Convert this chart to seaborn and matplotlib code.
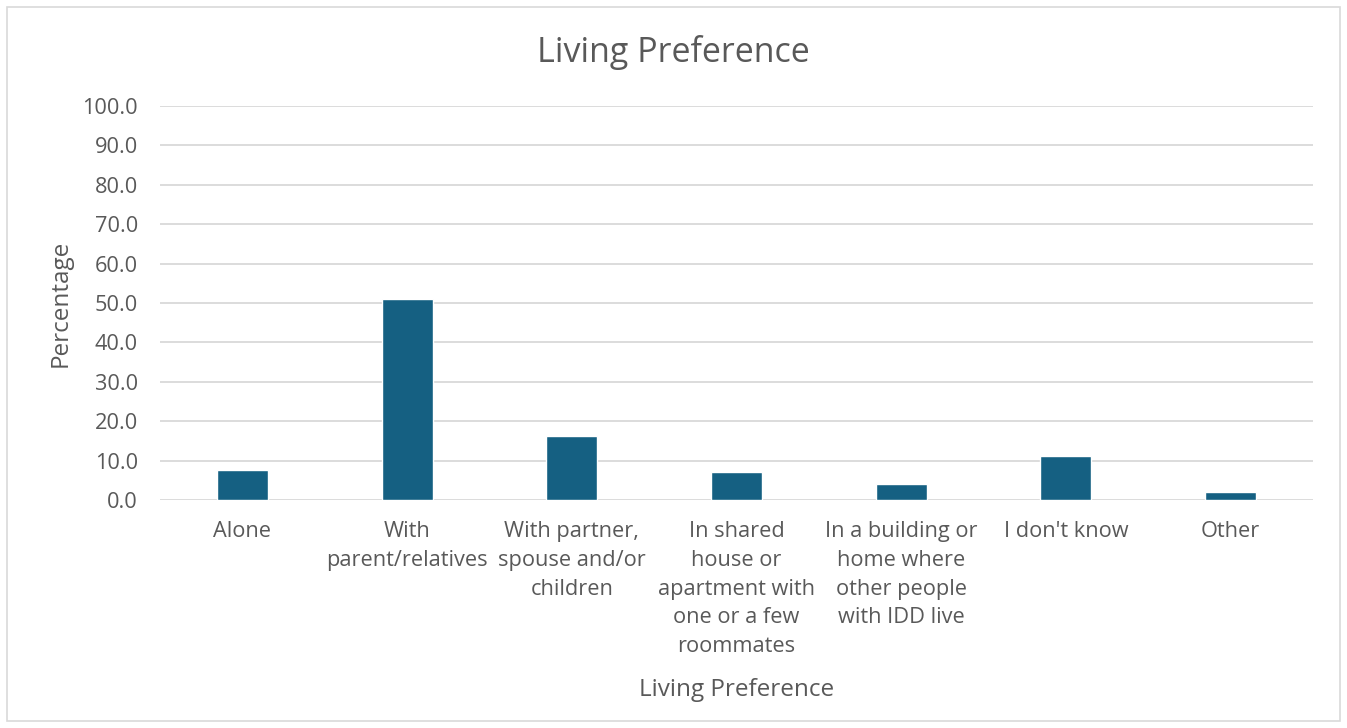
import matplotlib
matplotlib.use("Agg")
import matplotlib.pyplot as plt
import seaborn as sns
import pandas as pd
from matplotlib.patches import Rectangle

categories = [
    "Alone",
    "With parent/relatives",
    "With partner, spouse and/or children",
    "In shared house or apartment with one or a few roommates",
    "In a building or home where other people with IDD live",
    "I don't know",
    "Other",
]
tick_labels = [
    "Alone",
    "With\nparent/relatives",
    "With partner,\nspouse and/or\nchildren",
    "In shared\nhouse or\napartment with\none or a few\nroommates",
    "In a building or\nhome where\nother people\nwith IDD live",
    "I don't know",
    "Other",
]
percentages = [7.7, 50.9, 16.2, 7.2, 4.0, 11.1, 2.0]
y_ticks = [0, 10, 20, 30, 40, 50, 60, 70, 80, 90, 100]

df = pd.DataFrame({"category": categories, "pct": percentages})

sns.set_theme(style="white")
plt.rcParams["font.family"] = ["Open Sans", "DejaVu Sans"]

text_color = "#595959"
grid_color = "#d9d9d9"
bar_color = "#156082"
tick_size = 15.7
axis_label_size = 17.5

fig = plt.figure(figsize=(13.47, 7.28), dpi=100)
ax = fig.add_axes([160 / 1347, 1 - 500 / 728, (1313 - 160) / 1347, (500 - 106) / 728])

sns.barplot(data=df, x="category", y="pct", order=categories, color=bar_color,
            width=0.31, saturation=1, ax=ax, zorder=3)

ax.set_ylim(0, 100)
ax.set_yticks(y_ticks)
ax.set_yticklabels([f"{v:.1f}" for v in y_ticks])
ax.set_xticks(range(len(categories)))
ax.set_xticklabels(tick_labels, linespacing=1.49, va="top")
ax.set_xlim(-0.5, len(categories) - 0.5)

ax.yaxis.grid(True, color=grid_color, linewidth=1.3, zorder=0)
ax.set_axisbelow(True)
for s in ax.spines.values():
    s.set_visible(False)

ax.tick_params(axis="both", length=0, labelsize=tick_size, colors=text_color)
ax.tick_params(axis="y", pad=16)
ax.tick_params(axis="x", pad=15)

ax.set_xlabel("Living Preference", fontsize=axis_label_size, color=text_color, labelpad=15)
ax.set_ylabel("Percentage", fontsize=axis_label_size, color=text_color, labelpad=7)

fig.text(0.5, 1 - 52 / 728, "Living Preference", ha="center", va="center",
         fontsize=24.5, color=text_color)

fig.patches.append(Rectangle((7 / 1347, 7 / 728), 1 - 14 / 1347, 1 - 14 / 728,
                             transform=fig.transFigure, fill=False,
                             edgecolor=grid_color, linewidth=1.2))

fig.savefig("out.png", dpi=100, facecolor="white")
